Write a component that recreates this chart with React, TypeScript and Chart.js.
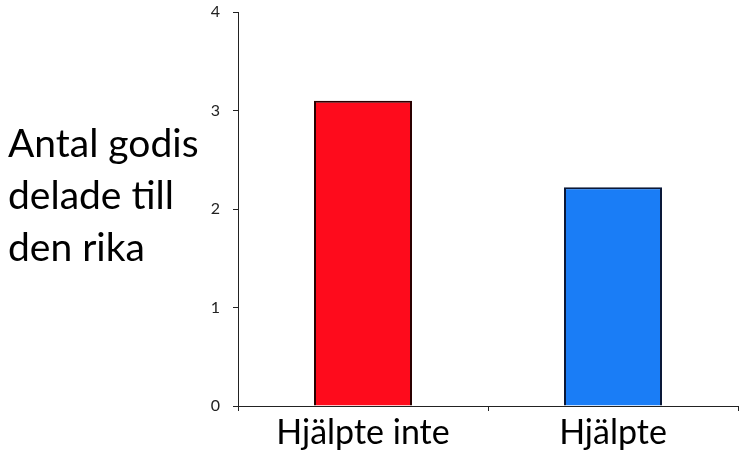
import React, { useEffect, useRef } from "react";
import { Chart, registerables } from "chart.js";

Chart.register(...registerables);

const categories = ["Hjälpte inte", "Hjälpte"];
const values = [3.1, 2.22];
const yTitleLines = ["Antal godis", "delade till", "den rika"];
const yTicks = [0, 1, 2, 3, 4];

const FONT = "Lato, 'Open Sans', sans-serif";

const titlePlugin = {
  id: "yTitleLines",
  afterDraw(chart: any) {
    const ctx = chart.ctx;
    ctx.save();
    ctx.fillStyle = "#000";
    ctx.font = `39px ${FONT}`;
    ctx.textAlign = "left";
    ctx.textBaseline = "alphabetic";
    yTitleLines.forEach((line, i) => {
      ctx.fillText(line, 8, 157 + i * 52);
    });
    ctx.restore();
  },
};

export default function App() {
  const ref = useRef<HTMLCanvasElement | null>(null);
  useEffect(() => {
    if (!ref.current) return;
    const chart = new Chart(ref.current, {
      type: "bar",
      data: {
        labels: categories,
        datasets: [
          {
            data: values,
            backgroundColor: ["#fe0b1c", "#1a7df6"],
            borderColor: ["#2a0000", "#0a1838"],
            borderWidth: 2,
            borderSkipped: "bottom",
            categoryPercentage: 1,
            barPercentage: 0.392,
          },
        ],
      },
      options: {
        animation: false,
        responsive: false,
        maintainAspectRatio: false,
        layout: { padding: { top: 12, right: 8, left: 0, bottom: 0 } },
        plugins: {
          legend: { display: false },
          tooltip: { enabled: false },
        },
        scales: {
          x: {
            offset: true,
            grid: {
              offset: true,
              drawOnChartArea: false,
              drawTicks: true,
              tickLength: 5,
              color: "#222",
            },
            border: { color: "#222", width: 1 },
            ticks: {
              color: "#000",
              font: { family: FONT, size: 34 },
              padding: 2,
            },
            afterFit(scale: any) {
              scale.height = 54;
              scale.paddingLeft = 0;
              scale.paddingRight = 0;
            },
          },
          y: {
            min: 0,
            max: 4,
            afterBuildTicks(scale: any) {
              scale.ticks = yTicks.map((v) => ({ value: v }));
            },
            grid: {
              drawOnChartArea: false,
              drawTicks: true,
              tickLength: 5,
              color: "#222",
            },
            border: { color: "#222", width: 1 },
            ticks: {
              color: "#222",
              font: { family: FONT, size: 16 },
              padding: 13,
            },
            afterFit(scale: any) {
              scale.width = 238;
              scale.paddingTop = 0;
              scale.paddingBottom = 0;
            },
          },
        },
      },
      plugins: [titlePlugin],
    });
    return () => chart.destroy();
  }, []);
  return (
    <div style={{ position: "fixed", left: 0, top: 0, width: 746, height: 460, background: "#fff" }}>
      <canvas ref={ref} width={746} height={460} style={{ width: 746, height: 460 }} />
    </div>
  );
}
